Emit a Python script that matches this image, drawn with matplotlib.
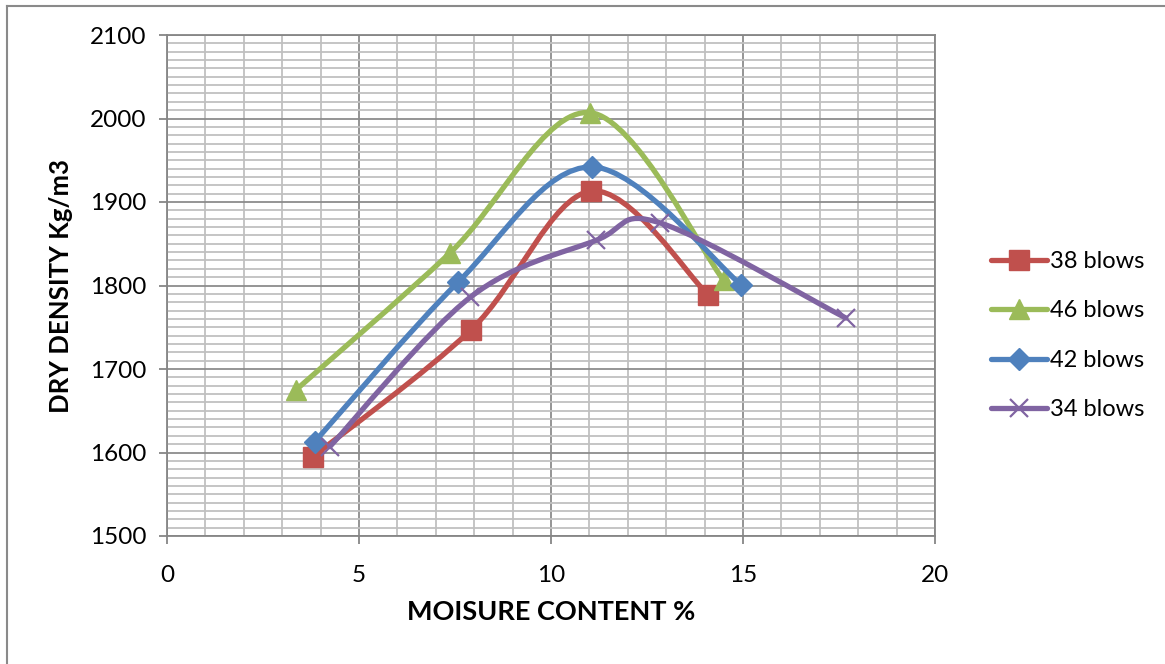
import matplotlib
matplotlib.use('Agg')
import matplotlib.pyplot as plt
from matplotlib.path import Path
from matplotlib.patches import PathPatch
from matplotlib.lines import Line2D
from matplotlib.ticker import MultipleLocator

# ---------------- data ----------------
series_names = ['38 blows', '46 blows', '42 blows', '34 blows']
moisture_38 = [3.80, 7.92, 11.03, 14.09]
density_38 = [1595, 1747, 1913, 1789]
moisture_46 = [3.36, 7.37, 11.02, 14.50]
density_46 = [1675, 1839, 2007, 1806]
moisture_42 = [3.85, 7.58, 11.06, 14.95]
density_42 = [1613, 1804, 1942, 1801]
moisture_34 = [4.24, 7.90, 11.17, 12.84, 17.68]
density_34 = [1607, 1786, 1854, 1875, 1761]

series_x = [moisture_38, moisture_46, moisture_42, moisture_34]
series_y = [density_38, density_46, density_42, density_34]
colors = ['#C0504D', '#9BBB59', '#4F81BD', '#8064A2']
markers = ['s', '^', 'D', 'x']
msizes = [14, 14, 11, 13]

x_label = 'MOISURE CONTENT %'
y_label = 'DRY DENSITY Kg/m3'

plt.rcParams['font.family'] = ['Lato', 'DejaVu Sans']

fig = plt.figure(figsize=(11.65, 6.64), dpi=100)
ax = fig.add_axes([167/1165, 1-536/664, (935-167)/1165, (536-35)/664])


def smooth_path(xs, ys):
    pts = list(zip(xs, ys))
    n = len(pts)
    verts = [pts[0]]
    codes = [Path.MOVETO]
    for i in range(n - 1):
        p0 = pts[i - 1] if i > 0 else pts[i]
        p1 = pts[i]
        p2 = pts[i + 1]
        p3 = pts[i + 2] if i + 2 < n else pts[i + 1]
        c1 = (p1[0] + (p2[0] - p0[0]) / 6.0, p1[1] + (p2[1] - p0[1]) / 6.0)
        c2 = (p2[0] - (p3[0] - p1[0]) / 6.0, p2[1] - (p3[1] - p1[1]) / 6.0)
        verts += [c1, c2, p2]
        codes += [Path.CURVE4] * 3
    return Path(verts, codes)


handles = []
for k, (xs, ys) in enumerate(zip(series_x, series_y)):
    z = 3 + k
    patch = PathPatch(smooth_path(xs, ys), facecolor='none', edgecolor=colors[k],
                      lw=3.8, capstyle='round', joinstyle='round', zorder=z)
    ax.add_patch(patch)
    if markers[k] == 'x':
        ax.plot(xs, ys, linestyle='none', marker='x', ms=msizes[k], mew=1.6,
                color=colors[k], zorder=z + 0.5)
    else:
        ax.plot(xs, ys, linestyle='none', marker=markers[k], ms=msizes[k],
                mec=colors[k], mfc=colors[k], zorder=z + 0.5)
    h = Line2D([], [], color=colors[k], lw=3.8, marker=markers[k],
               ms=msizes[k],
               mew=1.6 if markers[k] == 'x' else 1.0, solid_capstyle='round')
    handles.append(h)

ax.set_xlim(0, 20)
ax.set_ylim(1500, 2100)
ax.xaxis.set_major_locator(MultipleLocator(5))
ax.xaxis.set_minor_locator(MultipleLocator(1))
ax.yaxis.set_major_locator(MultipleLocator(100))
ax.yaxis.set_minor_locator(MultipleLocator(10))

ax.grid(which='minor', color='#c0c0c0', lw=1.3, zorder=0)
ax.grid(which='major', color='#8c8c8c', lw=1.3, zorder=1)
ax.set_axisbelow(True)

for s in ax.spines.values():
    s.set_color('#868686')
    s.set_linewidth(1.3)

ax.tick_params(which='major', direction='out', length=6, width=1.3,
               color='#868686', labelsize=17.5, pad=9)
ax.tick_params(axis='x', which='major', pad=15)
ax.tick_params(which='minor', length=0)

ax.set_xlabel(x_label, fontsize=19.5, fontweight='bold', labelpad=10)
ax.set_ylabel(y_label, fontsize=18.5, fontweight='bold', labelpad=12)

ax.legend(handles, series_names, loc='center left', bbox_to_anchor=(1.06, 0.40),
          frameon=False, fontsize=17, handlelength=2.4, handletextpad=0.1,
          labelspacing=1.2, borderaxespad=0)

# outer chart border (top and left edges visible)
fig.add_artist(Line2D([7/1165, 1.0], [1-6/664, 1-6/664], color='#8a8a8a', lw=1.5,
                      transform=fig.transFigure))
fig.add_artist(Line2D([7/1165, 7/1165], [0.0, 1-6/664], color='#8a8a8a', lw=1.5,
                      transform=fig.transFigure))

fig.savefig('out.png', dpi=100, facecolor='white')
